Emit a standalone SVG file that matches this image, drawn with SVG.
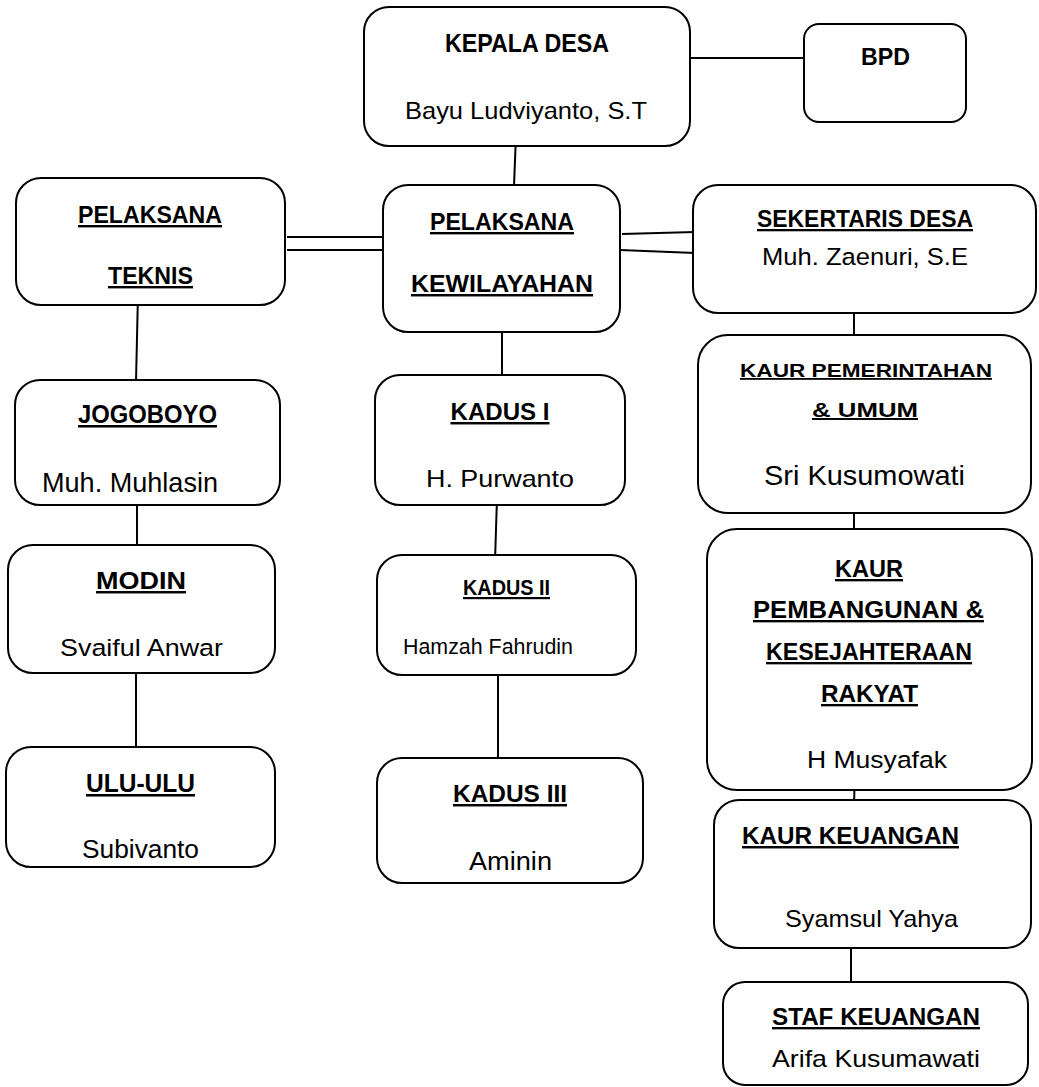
<svg xmlns="http://www.w3.org/2000/svg" width="1039" height="1087" viewBox="0 0 1039 1087">
<style>
.box{fill:#fff;stroke:#000;stroke-width:2}
.ln{stroke:#000;stroke-width:2;fill:none}
text{font-family:"Liberation Sans",Arial,sans-serif;fill:#000;text-anchor:middle}
.b{font-weight:bold}
.u{text-decoration:underline}
</style>
<rect width="1039" height="1087" fill="#fff"/>
<g id="connectors">
<line class="ln" x1="685" y1="58" x2="804" y2="58"/>
<line class="ln" x1="516" y1="135" x2="514" y2="186"/>
<line class="ln" x1="287" y1="237" x2="383" y2="237"/>
<line class="ln" x1="287" y1="250" x2="383" y2="250"/>
<line class="ln" x1="622" y1="234" x2="695" y2="232"/>
<line class="ln" x1="620" y1="250" x2="695" y2="253"/>
<line class="ln" x1="854" y1="300" x2="854" y2="342"/>
<line class="ln" x1="854" y1="500" x2="854" y2="530"/>
<line class="ln" x1="855" y1="770" x2="854" y2="805"/>
<line class="ln" x1="851" y1="939" x2="851" y2="985"/>
<line class="ln" x1="138" y1="293" x2="136" y2="382"/>
<line class="ln" x1="137" y1="490" x2="137" y2="550"/>
<line class="ln" x1="136" y1="663" x2="136" y2="747"/>
<line class="ln" x1="502" y1="320" x2="502" y2="377"/>
<line class="ln" x1="497" y1="498" x2="495" y2="562"/>
<line class="ln" x1="498" y1="665" x2="498" y2="765"/>
</g>
<g id="kepala-desa">
<rect class="box" x="364" y="7" width="326" height="139" rx="25"/>
<text class="b" x="527" y="52" font-size="25" textLength="164" lengthAdjust="spacingAndGlyphs">KEPALA DESA</text>
<text x="526" y="119" font-size="24" textLength="242" lengthAdjust="spacingAndGlyphs">Bayu Ludviyanto, S.T</text>
</g>
<g id="bpd">
<rect class="box" x="804" y="24" width="162" height="98" rx="15"/>
<text class="b" x="885.5" y="65" font-size="23" textLength="49" lengthAdjust="spacingAndGlyphs">BPD</text>
</g>
<g id="pelaksana-teknis">
<rect class="box" x="16" y="178" width="269" height="127" rx="25"/>
<text class="b u" x="150" y="223" font-size="24" textLength="144" lengthAdjust="spacingAndGlyphs">PELAKSANA</text>
<text class="b u" x="150.5" y="284" font-size="24" textLength="85" lengthAdjust="spacingAndGlyphs">TEKNIS</text>
</g>
<g id="pelaksana-kewilayahan">
<rect class="box" x="383" y="185" width="237" height="147" rx="25"/>
<text class="b u" x="502" y="230" font-size="24" textLength="144" lengthAdjust="spacingAndGlyphs">PELAKSANA</text>
<text class="b u" x="502" y="292" font-size="24.5" textLength="182" lengthAdjust="spacingAndGlyphs">KEWILAYAHAN</text>
</g>
<g id="sekertaris-desa">
<rect class="box" x="693" y="185" width="343" height="128" rx="25"/>
<text class="b u" x="865" y="227" font-size="23" textLength="216" lengthAdjust="spacingAndGlyphs">SEKERTARIS DESA</text>
<text x="865" y="265" font-size="24.5" textLength="206" lengthAdjust="spacingAndGlyphs">Muh. Zaenuri, S.E</text>
</g>
<g id="kaur-pemerintahan">
<rect class="box" x="698" y="335" width="333" height="178" rx="30"/>
<text class="b u" x="866" y="377" font-size="18" textLength="252" lengthAdjust="spacingAndGlyphs">KAUR PEMERINTAHAN</text>
<text class="b u" x="865" y="417" font-size="19.5" textLength="106" lengthAdjust="spacingAndGlyphs">&amp; UMUM</text>
<text x="864.5" y="485" font-size="28" textLength="201" lengthAdjust="spacingAndGlyphs">Sri Kusumowati</text>
</g>
<g id="jogoboyo">
<rect class="box" x="15" y="380" width="265" height="125" rx="25"/>
<text class="b u" x="147.5" y="423" font-size="25.5" textLength="139" lengthAdjust="spacingAndGlyphs">JOGOBOYO</text>
<text x="130" y="492" font-size="28" textLength="176" lengthAdjust="spacingAndGlyphs">Muh. Muhlasin</text>
</g>
<g id="modin">
<rect class="box" x="8" y="545" width="267" height="128" rx="25"/>
<text class="b u" x="141" y="589" font-size="24.5" textLength="90" lengthAdjust="spacingAndGlyphs">MODIN</text>
<text x="141.5" y="656" font-size="24.5" textLength="163" lengthAdjust="spacingAndGlyphs">Svaiful Anwar</text>
</g>
<g id="ulu-ulu">
<rect class="box" x="6" y="747" width="269" height="120" rx="25"/>
<text class="b u" x="140.5" y="792" font-size="25.5" textLength="109" lengthAdjust="spacingAndGlyphs">ULU-ULU</text>
<text x="140.5" y="858" font-size="25.5" textLength="117" lengthAdjust="spacingAndGlyphs">Subivanto</text>
</g>
<g id="kadus-1">
<rect class="box" x="375" y="375" width="250" height="130" rx="25"/>
<text class="b u" x="500" y="420" font-size="24.5" textLength="99" lengthAdjust="spacingAndGlyphs">KADUS I</text>
<text x="500" y="487" font-size="24" textLength="148" lengthAdjust="spacingAndGlyphs">H. Purwanto</text>
</g>
<g id="kadus-2">
<rect class="box" x="377" y="555" width="259" height="120" rx="25"/>
<text class="b u" x="506.5" y="595" font-size="22" textLength="87" lengthAdjust="spacingAndGlyphs">KADUS II</text>
<text x="488" y="654" font-size="22" textLength="170" lengthAdjust="spacingAndGlyphs">Hamzah Fahrudin</text>
</g>
<g id="kadus-3">
<rect class="box" x="377" y="758" width="266" height="125" rx="25"/>
<text class="b u" x="510" y="802" font-size="24.5" textLength="114" lengthAdjust="spacingAndGlyphs">KADUS III</text>
<text x="510.5" y="870" font-size="25" textLength="83" lengthAdjust="spacingAndGlyphs">Aminin</text>
</g>
<g id="kaur-pembangunan">
<rect class="box" x="707" y="529" width="325" height="261" rx="30"/>
<text class="b u" x="869" y="577" font-size="23.5" textLength="68" lengthAdjust="spacingAndGlyphs">KAUR</text>
<text class="b u" x="868.5" y="618" font-size="23.5" textLength="231" lengthAdjust="spacingAndGlyphs">PEMBANGUNAN &amp;</text>
<text class="b u" x="869" y="660" font-size="23.5" textLength="206" lengthAdjust="spacingAndGlyphs">KESEJAHTERAAN</text>
<text class="b u" x="869.5" y="702" font-size="23.5" textLength="97" lengthAdjust="spacingAndGlyphs">RAKYAT</text>
<text x="877" y="768" font-size="24.5" textLength="140" lengthAdjust="spacingAndGlyphs">H Musyafak</text>
</g>
<g id="kaur-keuangan">
<rect class="box" x="714" y="800" width="317" height="148" rx="25"/>
<text class="b u" x="850.5" y="844" font-size="24.5" textLength="217" lengthAdjust="spacingAndGlyphs">KAUR KEUANGAN</text>
<text x="871.5" y="927" font-size="24" textLength="173" lengthAdjust="spacingAndGlyphs">Syamsul Yahya</text>
</g>
<g id="staf-keuangan">
<rect class="box" x="723" y="982" width="305" height="103" rx="22"/>
<text class="b u" x="876" y="1025" font-size="23.5" textLength="208" lengthAdjust="spacingAndGlyphs">STAF KEUANGAN</text>
<text x="876" y="1067" font-size="24" textLength="208" lengthAdjust="spacingAndGlyphs">Arifa Kusumawati</text>
</g>
</svg>
